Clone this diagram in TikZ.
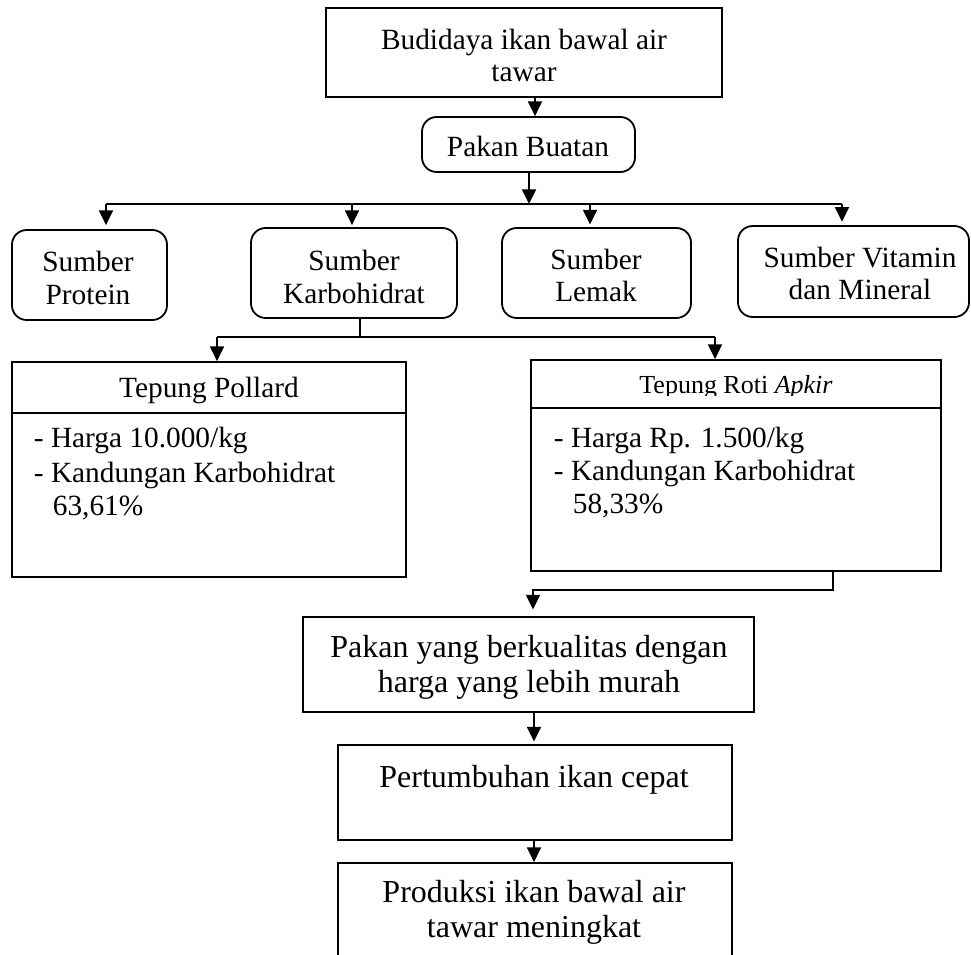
\documentclass[tikz,border=0pt]{standalone}
\usepackage{fontspec}
\setmainfont{Liberation Serif}
\usetikzlibrary{arrows.meta,fit}
\newcommand\fszA{\fontsize{22}{26}\selectfont}
\newcommand\fszB{\fontsize{24}{28}\selectfont}
\newcommand\fszC{\fontsize{19.5}{23}\selectfont}
\begin{document}
\begin{tikzpicture}[x=0.75pt,y=-0.75pt,
  line width=1.35pt,
  box/.style={draw, line width=1.35pt, inner sep=0pt},
  rbox/.style={box, rounded corners=11pt},
  tA/.style={inner sep=0pt, anchor=base, font=\fszA},
  tAl/.style={inner sep=0pt, anchor=base west, font=\fszA},
  tB/.style={inner sep=0pt, anchor=base, font=\fszB},
  tC/.style={inner sep=0pt, anchor=base, font=\fszC},
  arr/.style={-{Triangle[length=11pt,width=10.5pt]}}]
\useasboundingbox (0,0) rectangle (971,955);
\clip (0,0) rectangle (971,955);

% boxes
\node[box, fit={(326,8) (722,97)}] (b1) {};
\node[rbox, fit={(422,117) (635,172)}] (b2) {};
\node[rbox, fit={(12,230) (167,320)}] (sp) {};
\node[rbox, fit={(251,228) (457,318)}] (sk) {};
\node[rbox, fit={(502,228) (691,318)}] (sl) {};
\node[rbox, fit={(738,226) (969,317)}] (sv) {};
\node[box, fit={(12,362) (406,577)}] (tp) {};
\node[box, fit={(531,360) (941,571)}] (tr) {};
\node[box, fit={(303,617) (754,712)}] (pq) {};
\node[box, fit={(338,745) (732,840)}] (pt) {};
\node[box, fit={(338,863) (732,975)}] (pr) {};

% dividers
\draw (tp.west |- 0,413) -- (tp.east |- 0,413);
\draw (tr.west |- 0,408) -- (tr.east |- 0,408);

% texts
\node[tA] (t1a) at (524,50) {Budidaya ikan bawal air};
\node[tA] (t1b) at (524,82) {tawar};
\node[tA] (t2) at (528,157) {Pakan Buatan};
\node[tA] (t3a) at (88,272) {Sumber};
\node[tA] (t3b) at (88,305) {Protein};
\node[tA] (t4a) at (354,271) {Sumber};
\node[tA] (t4b) at (354,304) {Karbohidrat};
\node[tA] (t5a) at (596,270) {Sumber};
\node[tA] (t5b) at (596,302) {Lemak};
\node[tA] (t6a) at (860,268) {Sumber Vitamin};
\node[tA] (t6b) at (860,300) {dan Mineral};
\node[tA] (t7) at (209,398) {Tepung Pollard};
\node[tAl] (t7a) at (33,448) {- Harga 10.000/kg};
\node[tAl] (t7b) at (33,482) {- Kandungan Karbohidrat};
\node[tAl] (t7c) at (52,515) {63,61\%};
\begin{scope}
\clip (531,360) rectangle (941,396);
\node[tC] (t8) at (736,394) {Tepung Roti \textit{Apkir}};
\end{scope}
\node[tAl] (t8a) at (553,447) {- Harga Rp. 1.500/kg};
\node[tAl] (t8b) at (553,480) {- Kandungan Karbohidrat};
\node[tAl] (t8c) at (572,513) {58,33\%};
\node[tB] (t9a) at (529,657) {Pakan yang berkualitas dengan};
\node[tB] (t9b) at (529,692) {harga yang lebih murah};
\node[tB] (t10) at (534,787) {Pertumbuhan ikan cepat};
\node[tB] (t11a) at (534,902) {Produksi ikan bawal air};
\node[tB] (t11b) at (534,937) {tawar meningkat};

% connectors
\coordinate (x1) at (535,0);
\draw[arr] (b1.south -| x1) -- (b2.north -| x1);
\coordinate (hb) at (529,204);
\coordinate (hl) at (106,204);
\coordinate (hk) at (352,204);
\coordinate (hm) at (590,204);
\coordinate (hr) at (842,204);
\draw[arr] (b2.south -| hb) -- (hb);
\draw (hl) -- (hr);
\draw[arr, shorten >=3pt] (hl) -- (sp.north -| hl);
\draw[arr, shorten >=1.5pt] (hk) -- (sk.north -| hk);
\draw[arr, shorten >=2pt] (hm) -- (sl.north -| hm);
\draw[arr, shorten >=2.5pt] (hr) -- (sv.north -| hr);

\coordinate (kj) at (360,337);
\coordinate (kl) at (217,337);
\coordinate (kr) at (715,337);
\draw (sk.south -| kj) -- (kj);
\draw (kl) -- (kr);
\draw[arr] (kl) -- (tp.north -| kl);
\draw[arr] (kr) -- (tr.north -| kr);

\coordinate (rj) at (833,590);
\coordinate (rl) at (533,590);
\draw[arr, shorten >=5pt] (tr.south -| rj) -- (rj) -- (rl) -- (pq.north -| rl);

\coordinate (x2) at (534,0);
\draw[arr, shorten >=2pt] (pq.south -| x2) -- (pt.north -| x2);
\draw[arr] (pt.south -| x2) -- (pr.north -| x2);
\end{tikzpicture}
\end{document}
